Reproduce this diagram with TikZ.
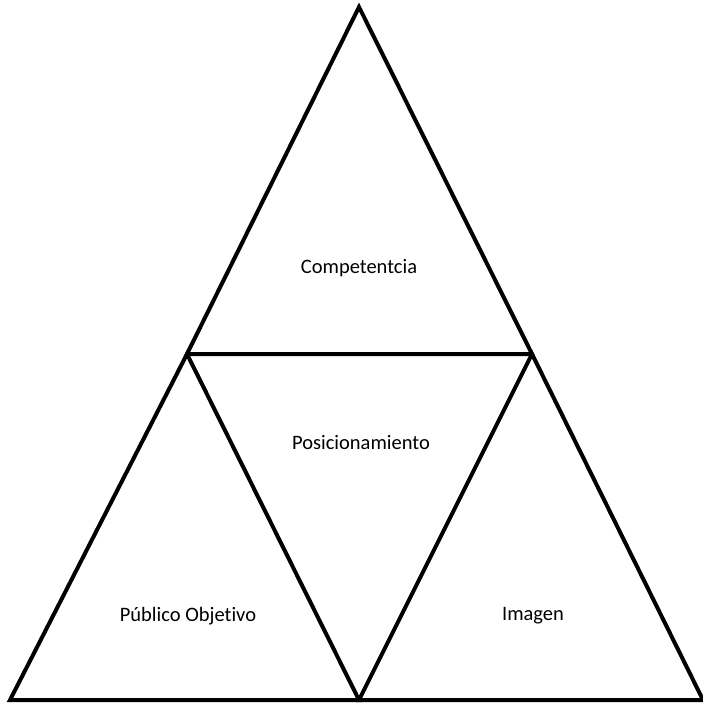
\documentclass[tikz,border=0pt]{standalone}
\usepackage{fontspec}
\setmainfont[Ligatures={NoCommon}]{Carlito}
\begin{document}
\begin{tikzpicture}[x=1pt,y=-1pt,
  tri/.style={draw=black,line width=4pt,line join=miter},
  lbl/.style={font=\fontsize{20.5}{24}\selectfont,text=black,inner sep=0pt}]
\useasboundingbox (0,0) rectangle (702,704);
\coordinate (A) at (359,7);
\coordinate (L) at (187,354);
\coordinate (R) at (532,354);
\coordinate (BL) at (10,700);
\coordinate (BM) at (359,700);
\coordinate (BR) at (703,700);
\draw[tri] (A) -- (L) -- (R) -- cycle;
\draw[tri] (L) -- (BL) -- (BM) -- cycle;
\draw[tri] (R) -- (BM) -- (BR) -- cycle;
\node[lbl] (comp) at (359,268) {Competentcia};
\node[lbl] (pos) at (361,443) {Posicionamiento};
\node[lbl] (pub) at (188,616) {Público Objetivo};
\node[lbl] (img) at (533,616) {Imagen};
\end{tikzpicture}
\end{document}
